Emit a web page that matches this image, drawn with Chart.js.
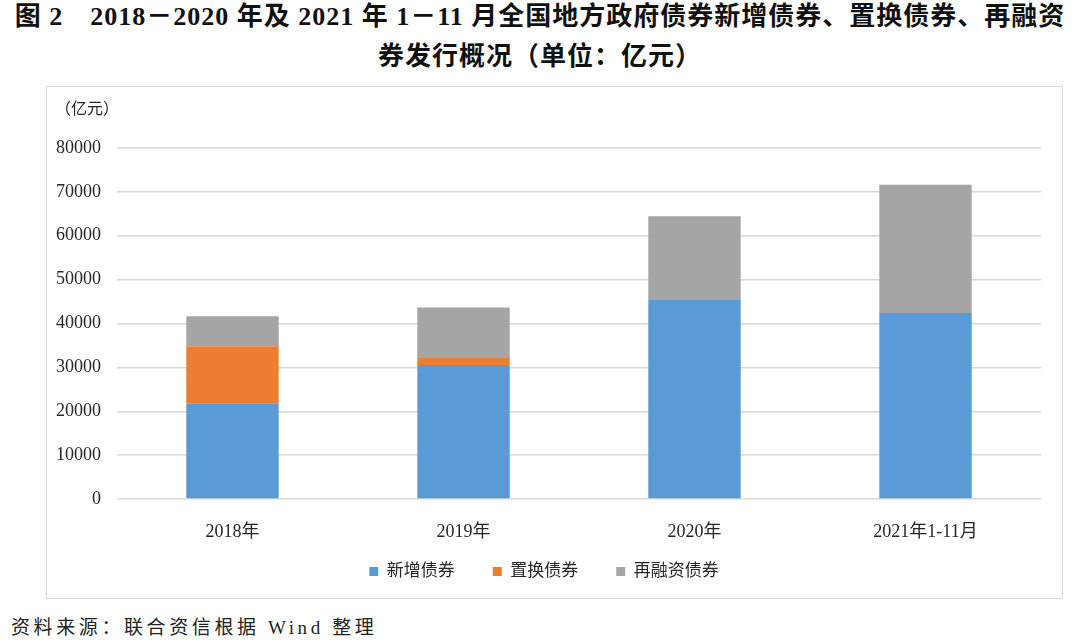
<!DOCTYPE html>
<html>
<head>
<meta charset="utf-8">
<script src="https://cdn.jsdelivr.net/npm/chart.js@4/dist/chart.umd.min.js"></script>
<style>
  html, body { margin: 0; padding: 0; background: #fff; width: 1080px; height: 644px; overflow: hidden; }
  #title { position: absolute; left: 0; top: -3px; width: 1080px; text-align: center;
    font-family: "Liberation Serif", "Noto Sans CJK SC", serif; font-weight: bold; font-size: 26px;
    letter-spacing: 1px; line-height: 40px; color: #111; }
  #box { position: absolute; left: 46px; top: 86px; width: 1015px; height: 511px; border: 1px solid #d9d9d9; }
  #unit { position: absolute; left: 8px; top: 8px; font-family: "Liberation Serif", "Noto Sans CJK SC", serif; font-size: 16px; color: #262626; }
  #src { position: absolute; left: 11px; top: 612px; font-family: "Liberation Serif", "Noto Sans CJK SC", serif;
    font-size: 19px; letter-spacing: 3.6px; color: #222; }
</style>
</head>
<body>
<div id="title">图 2　2018－2020 年及 2021 年 1－11 月全国地方政府债券新增债券、置换债券、再融资<br>券发行概况（单位：亿元）</div>
<div id="box">
  <canvas id="c" width="1015" height="511"></canvas>
  <div id="unit">（亿元）</div>
</div>
<div id="src">资料来源：联合资信根据 Wind 整理</div>
<script>
const categories = ["2018年", "2019年", "2020年", "2021年1-11月"];
const newBonds = [21705, 30561, 45525, 42400];
const replacementBonds = [13130, 1579, 0, 0];
const refinancingBonds = [6817, 11484, 18913, 29200];
const seriesNames = ["新增债券", "置换债券", "再融资债券"];
const yTicks = [0, 10000, 20000, 30000, 40000, 50000, 60000, 70000, 80000];

const fontFam = '"Liberation Serif", "Noto Sans CJK SC", serif';
const legendUp = {
  id: 'legendUp',
  afterLayout(chart) {
    const l = chart.legend;
    if (l) { l.top -= 14; l.bottom = l.top + 72; l.height = 72; }
  }
};
new Chart(document.getElementById('c'), {
  type: 'bar',
  data: {
    labels: categories,
    datasets: [
      { label: seriesNames[0], data: newBonds, backgroundColor: '#5B9BD5' },
      { label: seriesNames[1], data: replacementBonds, backgroundColor: '#ED7D31' },
      { label: seriesNames[2], data: refinancingBonds, backgroundColor: '#A5A5A5' }
    ]
  },
  plugins: [legendUp],
  options: {
    responsive: false,
    animation: false,
    layout: { padding: { top: 61, right: 21, bottom: 8, left: 0 } },
    datasets: { bar: { categoryPercentage: 1.0, barPercentage: 0.4 } },
    plugins: {
      legend: {
        position: 'bottom',
        maxHeight: 51,
        labels: { boxWidth: 9, boxHeight: 9, padding: 38, color: '#262626', font: { family: fontFam, size: 17 } }
      },
      tooltip: { enabled: false }
    },
    scales: {
      x: {
        stacked: true,
        grid: { display: false },
        border: { display: false },
        ticks: { color: '#262626', font: { family: fontFam, size: 18 }, padding: 14 },
        afterFit: s => { s.height = 40; }
      },
      y: {
        stacked: true,
        min: 0, max: 80000,
        afterBuildTicks: s => { s.ticks = yTicks.map(v => ({ value: v })); },
        grid: { color: '#d9d9d9', lineWidth: 1.5, drawTicks: false },
        border: { display: false },
        ticks: { color: '#262626', font: { family: fontFam, size: 18 }, padding: 16, callback: v => String(v) },
        afterFit: s => { s.width = 70; }
      }
    }
  }
});
</script>
</body>
</html>
